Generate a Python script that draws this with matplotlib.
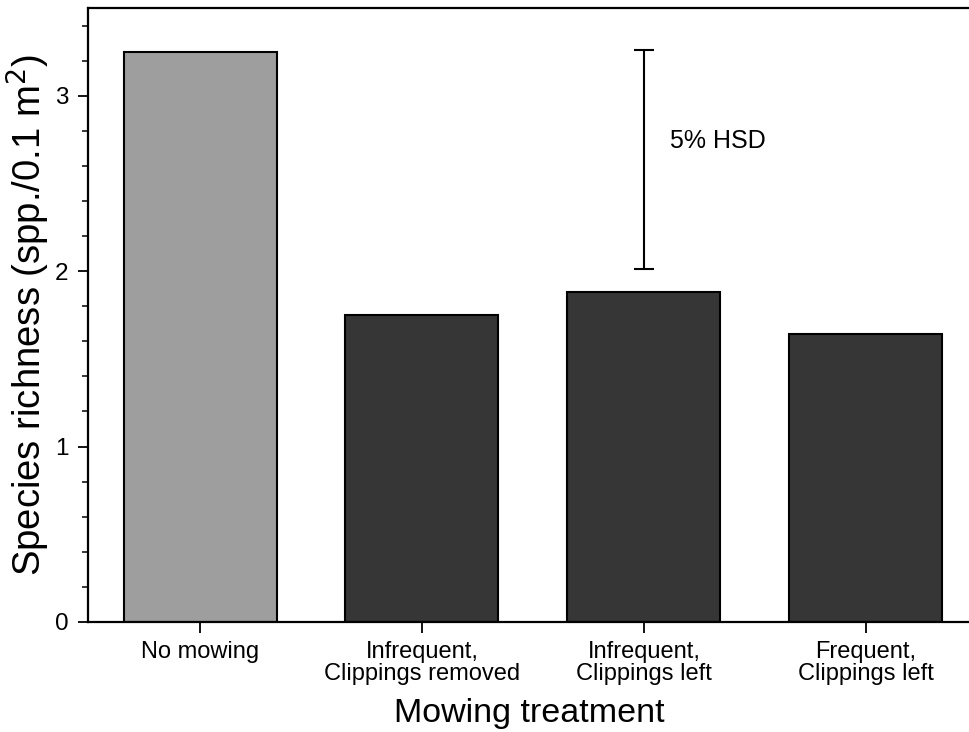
import numpy as np
import matplotlib
matplotlib.use("Agg")
import matplotlib.pyplot as plt

plt.rcParams['font.family'] = ['Liberation Sans', 'DejaVu Sans']

# ---------- data ----------
treatments = ["No mowing", "Infrequent,\nClippings removed",
              "Infrequent,\nClippings left", "Frequent,\nClippings left"]
richness = [3.25, 1.75, 1.88, 1.64]
bar_colors = ["#9e9e9e", "#363636", "#363636", "#363636"]
hsd_low, hsd_high = 2.01, 3.26
hsd_label = "5% HSD"

fig = plt.figure(figsize=(9.7, 7.32), dpi=100)
ax = fig.add_axes([88/970, 1 - 622/732, 1 - 88/970, (622 - 8)/732])

x = np.arange(len(treatments))
ax.bar(x, richness, width=0.69, color=bar_colors, edgecolor="black", linewidth=1.5, zorder=2)

# HSD bar above the third treatment
ax.errorbar([x[2]], [(hsd_low + hsd_high) / 2], yerr=[(hsd_high - hsd_low) / 2],
            fmt="none", ecolor="black", elinewidth=1.5, capsize=7, capthick=1.5)
ax.text(x[2] + 0.12, 2.74, hsd_label, fontsize=18, va="center", ha="left")

ax.set_xlim(-0.505, 3.47)
ax.set_ylim(0, 3.5)
ax.set_yticks([0, 1, 2, 3])
ax.set_yticks(np.arange(0, 3.5, 0.2), minor=True)
ax.set_xticks(x)
ax.set_xticklabels(treatments, fontsize=17, linespacing=0.95)
ax.tick_params(axis="y", labelsize=17.5, length=7, width=1.3, pad=7, direction="out")
ax.tick_params(axis="y", which="minor", length=4, width=1.1)
ax.tick_params(axis="x", length=8, width=1.3, pad=6, direction="out")

for side in ["left", "bottom", "top"]:
    ax.spines[side].set_linewidth(1.6)
ax.spines["right"].set_visible(False)

ax.set_ylabel("Species richness (spp./0.1 m$^2$)", fontsize=27.5, labelpad=2)
ax.set_xlabel("Mowing treatment", fontsize=24.5, labelpad=10)

fig.savefig("out.png", dpi=100)
